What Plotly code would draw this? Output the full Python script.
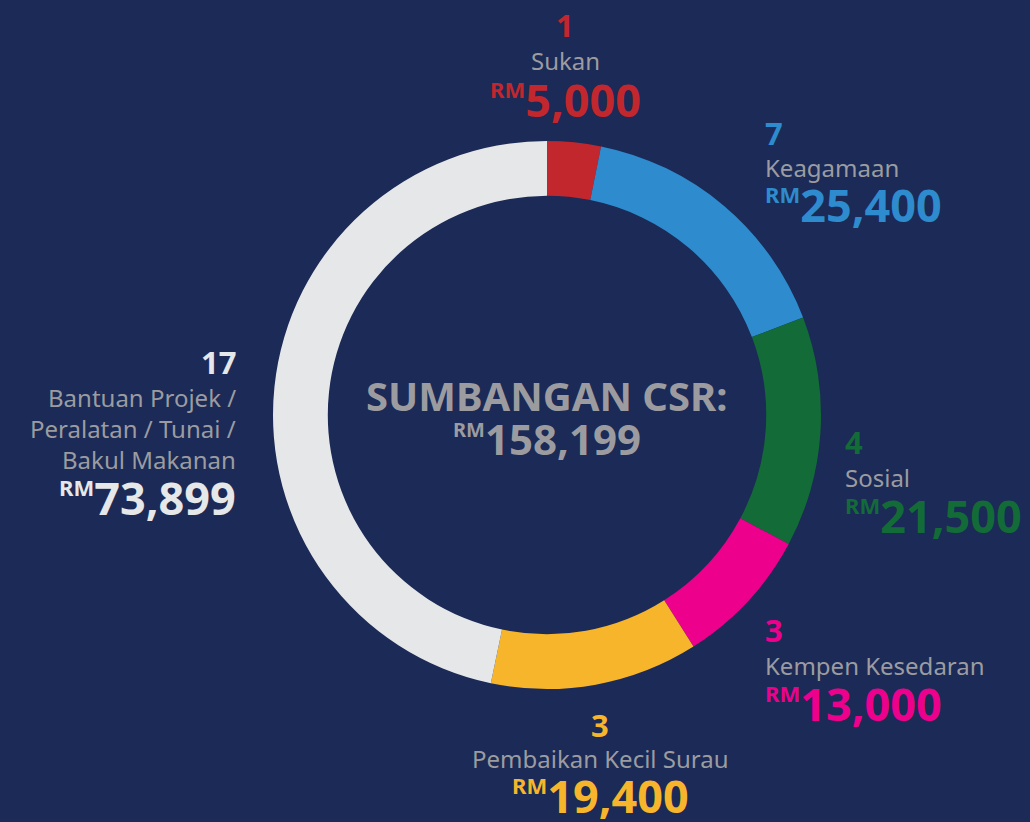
import plotly.graph_objects as go

W, H = 1030, 822
BG = "#1b2a56"
GREY = "#9c9ca0"

categories = ["Sukan", "Keagamaan", "Sosial", "Kempen Kesedaran",
              "Pembaikan Kecil Surau",
              "Bantuan Projek / Peralatan / Tunai / Bakul Makanan"]
amounts = [5000, 25400, 21500, 13000, 19400, 73899]
counts = [1, 7, 4, 3, 3, 17]
colors = ["#c1272d", "#2e8bce", "#136b37", "#ec008c", "#f7b52c", "#e6e7e8"]
total_label = "158,199"

fig = go.Figure(go.Pie(
    labels=categories,
    values=amounts,
    marker=dict(colors=colors, line=dict(width=0)),
    hole=0.8,
    sort=False,
    direction="clockwise",
    rotation=0,
    textinfo="none",
    hoverinfo="label+value",
    showlegend=False,
    domain=dict(x=[(547 - 274) / W, (547 + 274) / W],
                y=[(H - 415 - 274) / H, (H - 415 + 274) / H]),
))


def px(x):
    return x / W


def py(y):
    return 1 - y / H


FONT = "Noto Sans"


def money(value, size=22):
    # small raised "RM" in front of the big figure
    return f"<b><sup><span style='font-size:{size}px'>RM</span></sup>{value}</b>"


def label_block(x, ys, idx, anchor, lines):
    col = colors[idx]
    y_count, y_lines, y_amt = ys
    fig.add_annotation(x=px(x), y=py(y_count), text=f"<b>{counts[idx]}</b>",
                       font=dict(family=FONT, size=31, color=col),
                       xanchor=anchor, yanchor="middle", showarrow=False)
    for ln, yy in zip(lines, y_lines):
        fig.add_annotation(x=px(x), y=py(yy), text=ln,
                           font=dict(family=FONT, size=24, color=GREY),
                           xanchor=anchor, yanchor="middle", showarrow=False)
    fig.add_annotation(x=px(x), y=py(y_amt), text=money(f"{amounts[idx]:,}"),
                       font=dict(family=FONT, size=45, color=col),
                       xanchor=anchor, yanchor="middle", showarrow=False)


label_block(565, (25, [60], 100), 0, "center", ["Sukan"])
label_block(763, (133, [168], 205), 1, "left", ["Keagamaan"])
label_block(843, (442, [478], 515), 2, "left", ["Sosial"])
label_block(763, (630, [665], 703), 3, "left", ["Kempen Kesedaran"])
label_block(600, (725, [758], 795), 4, "center", ["Pembaikan Kecil Surau"])
label_block(238, (362, [397, 428, 459], 497), 5, "right",
            ["Bantuan Projek /", "Peralatan / Tunai /", "Bakul Makanan"])

fig.add_annotation(x=px(547), y=py(395), text="<b>SUMBANGAN CSR:</b>",
                   font=dict(family=FONT, size=40, color=GREY),
                   xanchor="center", yanchor="middle", showarrow=False)
fig.add_annotation(x=px(547), y=py(438), text=money(total_label, 20),
                   font=dict(family=FONT, size=42, color=GREY),
                   xanchor="center", yanchor="middle", showarrow=False)

fig.update_layout(
    width=W, height=H,
    margin=dict(l=0, r=0, t=0, b=0),
    paper_bgcolor=BG, plot_bgcolor=BG,
)

fig.write_html(
    "out.html",
    config={"displayModeBar": False},
    post_script="document.body.style.margin='0';"
                "document.body.style.background='#1b2a56';",
)
